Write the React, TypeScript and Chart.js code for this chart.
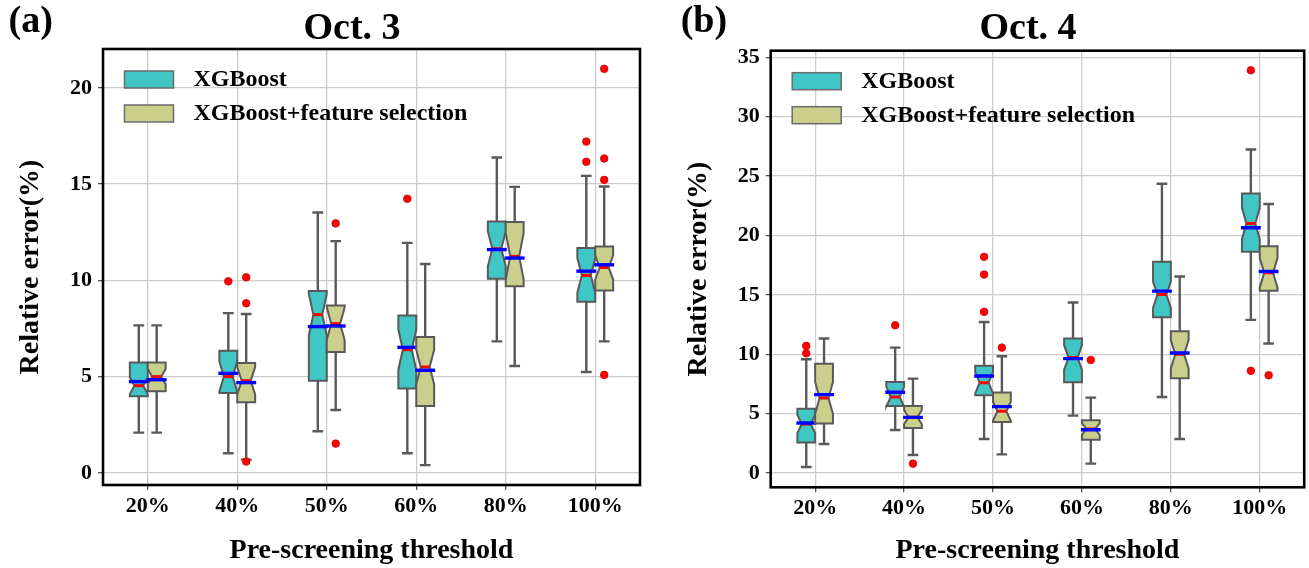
import React, { useEffect, useRef } from 'react';
import { Chart, registerables } from 'chart.js';

Chart.register(...registerables);

const thresholds = ['20%', '40%', '50%', '60%', '80%', '100%'];
const seriesNames = ['XGBoost', 'XGBoost+feature selection'];

// per threshold: [lower whisker, q1, notch low, median, notch high, q3, upper whisker, mean]
const oct3Xgb = [
  [2.09, 3.98, 4.09, 4.53, 4.97, 5.74, 7.66, 4.74],
  [1.02, 4.15, 4.22, 5.0, 5.8, 6.35, 8.3, 5.17],
  [2.16, 4.78, 7.15, 8.22, 9.3, 9.45, 13.53, 7.6],
  [1.02, 4.38, 5.36, 6.4, 7.44, 8.18, 11.95, 6.52],
  [6.83, 10.09, 10.73, 11.64, 12.54, 13.06, 16.38, 11.6],
  [5.24, 8.89, 9.36, 10.26, 11.16, 11.68, 15.43, 10.48],
];
const oct3Fs = [
  [2.09, 4.24, 4.6, 5.0, 5.4, 5.74, 7.66, 4.84],
  [0.69, 3.67, 4.08, 4.79, 5.5, 5.71, 8.25, 4.69],
  [3.27, 6.28, 6.9, 7.75, 8.6, 8.7, 12.04, 7.63],
  [0.4, 3.48, 4.6, 5.5, 6.4, 7.06, 10.85, 5.33],
  [5.55, 9.69, 10.05, 11.25, 12.46, 13.03, 14.86, 11.16],
  [6.83, 9.48, 10.05, 10.67, 11.3, 11.76, 14.88, 10.81],
];
const oct4Xgb = [
  [0.51, 2.58, 3.37, 4.13, 4.9, 5.42, 9.58, 4.21],
  [3.62, 5.65, 5.6, 6.4, 7.25, 7.67, 10.56, 6.8],
  [2.87, 6.54, 6.7, 7.61, 8.5, 9.04, 12.72, 8.17],
  [4.83, 7.64, 8.7, 9.72, 10.76, 11.32, 14.35, 9.63],
  [6.4, 13.12, 13.9, 15.03, 16.1, 17.78, 24.35, 15.31],
  [12.89, 18.62, 19.7, 21.01, 22.3, 23.54, 27.24, 20.65],
];
const oct4Fs = [
  [2.44, 4.16, 4.97, 6.32, 7.67, 9.21, 11.32, 6.6],
  [1.52, 3.79, 4.1, 4.69, 5.3, 5.65, 7.95, 4.69],
  [1.57, 4.3, 4.4, 5.2, 6.0, 6.77, 9.83, 5.59],
  [0.79, 2.81, 3.2, 3.71, 4.2, 4.44, 6.35, 3.65],
  [2.87, 7.98, 8.8, 10.0, 11.2, 11.94, 16.54, 10.11],
  [10.9, 15.34, 15.6, 16.85, 18.1, 19.1, 22.64, 16.97],
];

// outliers: [threshold index, value]
const oct3XgbOutliers = [[1, 9.95], [3, 14.24], [5, 17.21], [5, 16.16]];
const oct3FsOutliers = [[1, 10.16], [1, 8.81], [1, 0.59], [2, 12.96], [2, 1.52], [5, 20.99], [5, 16.33], [5, 15.22], [5, 5.09]];
const oct4XgbOutliers = [[0, 10.7], [0, 10.08], [1, 12.44], [2, 18.2], [2, 16.71], [2, 13.57], [5, 33.9], [5, 8.6]];
const oct4FsOutliers = [[1, 0.79], [2, 10.56], [3, 9.52], [5, 8.23]];

const oct3YTicks = [0, 5, 10, 15, 20];
const oct4YTicks = [0, 5, 10, 15, 20, 25, 30, 35];
const oct3YRange = [-0.63, 22.02];
const oct4YRange = [-1.2, 35.55];

const XGB_COLOR = '#41c6c6';
const FS_COLOR = '#cbcf8c';
const EDGE = '#595959';
const FONT = '"Liberation Serif", "Times New Roman", serif';
const OFFSETS = [-0.1, 0.1];
const BOX_HALF = 0.1;
const NOTCH_HALF = 0.05;
const CAP_HALF = 0.06;

type Area = { left: number; right: number; top: number; bottom: number };

const boxPlugin = (stats: number[][][], colors: string[]) => ({
  id: 'notchedBoxes',
  beforeDatasetsDraw(chart: any) {
    const { ctx, chartArea, scales } = chart;
    const xs = scales.x;
    const ys = scales.y;
    ctx.save();
    ctx.beginPath();
    ctx.rect(chartArea.left, chartArea.top, chartArea.right - chartArea.left, chartArea.bottom - chartArea.top);
    ctx.clip();
    stats.forEach((serie, si) => {
      serie.forEach((st, i) => {
        const [lo, q1, cilo, med, cihi, q3, hi, mean] = st.map((v) => ys.getPixelForValue(v));
        const pos = i + OFFSETS[si];
        const L = xs.getPixelForValue(pos - BOX_HALF);
        const R = xs.getPixelForValue(pos + BOX_HALF);
        const nL = xs.getPixelForValue(pos - NOTCH_HALF);
        const nR = xs.getPixelForValue(pos + NOTCH_HALF);
        const C = xs.getPixelForValue(pos);
        const cL = xs.getPixelForValue(pos - CAP_HALF);
        const cR = xs.getPixelForValue(pos + CAP_HALF);

        // whiskers and caps
        ctx.strokeStyle = EDGE;
        ctx.lineWidth = 2.4;
        ctx.beginPath();
        ctx.moveTo(C, q1);
        ctx.lineTo(C, lo);
        ctx.moveTo(C, q3);
        ctx.lineTo(C, hi);
        ctx.moveTo(cL, lo);
        ctx.lineTo(cR, lo);
        ctx.moveTo(cL, hi);
        ctx.lineTo(cR, hi);
        ctx.stroke();

        // notched box
        ctx.beginPath();
        ctx.moveTo(L, q1);
        ctx.lineTo(R, q1);
        ctx.lineTo(R, cilo);
        ctx.lineTo(nR, med);
        ctx.lineTo(R, cihi);
        ctx.lineTo(R, q3);
        ctx.lineTo(L, q3);
        ctx.lineTo(L, cihi);
        ctx.lineTo(nL, med);
        ctx.lineTo(L, cilo);
        ctx.closePath();
        ctx.fillStyle = colors[si];
        ctx.fill();
        ctx.lineWidth = 2;
        ctx.lineJoin = 'miter';
        ctx.stroke();

        // median
        ctx.strokeStyle = '#ff0000';
        ctx.lineWidth = 3;
        ctx.beginPath();
        ctx.moveTo(nL, med);
        ctx.lineTo(nR, med);
        ctx.stroke();

        // mean
        ctx.strokeStyle = '#0000ff';
        ctx.lineWidth = 3.4;
        ctx.beginPath();
        ctx.moveTo(L - 1, mean);
        ctx.lineTo(R + 1, mean);
        ctx.stroke();
      });
    });
    ctx.restore();
  },
  afterDraw(chart: any) {
    const { ctx, chartArea } = chart;
    ctx.save();
    // axes frame
    ctx.strokeStyle = '#000';
    ctx.lineWidth = 2.6;
    ctx.strokeRect(chartArea.left, chartArea.top, chartArea.right - chartArea.left, chartArea.bottom - chartArea.top);
    // legend
    ctx.font = `bold 24px ${FONT}`;
    ctx.textBaseline = 'middle';
    ctx.fillStyle = '#000';
    seriesNames.forEach((name, i) => {
      const x = chartArea.left + 21.5;
      const y = chartArea.top + 22 + i * 34;
      ctx.fillStyle = colors[i];
      ctx.fillRect(x, y, 49, 17);
      ctx.strokeStyle = '#6b6b6b';
      ctx.lineWidth = 1.5;
      ctx.strokeRect(x, y, 49, 17);
      ctx.fillStyle = '#000';
      ctx.fillText(name, x + 69, y + 9);
    });
    ctx.restore();
  },
});

interface PanelProps {
  left: number;
  width: number;
  area: Area;
  title: string;
  titleX: number;
  letter: string;
  letterX: number;
  yTitlePad: number;
  stats: number[][][];
  outliers: number[][][];
  yTicks: number[];
  yRange: number[];
}

const Panel: React.FC<PanelProps> = (p) => {
  const canvasRef = useRef<HTMLCanvasElement>(null);

  useEffect(() => {
    if (!canvasRef.current) return;
    const colors = [XGB_COLOR, FS_COLOR];
    const tickFont = { family: FONT, size: 22, weight: 'bold' as const };
    const titleFont = { family: FONT, size: 28, weight: 'bold' as const, lineHeight: 1.2 };
    const chart = new Chart(canvasRef.current, {
      type: 'scatter',
      data: {
        datasets: p.outliers.map((list, si) => ({
          label: seriesNames[si] + ' outliers',
          data: list.map(([i, v]) => ({ x: i + OFFSETS[si], y: v })),
          backgroundColor: '#ff0000',
          borderColor: '#d00000',
          borderWidth: 0.8,
          pointRadius: 3.8,
        })),
      },
      options: {
        animation: false,
        responsive: false,
        maintainAspectRatio: false,
        layout: {
          padding: { left: 0, top: p.area.top, right: p.width - p.area.right, bottom: 0 },
        },
        plugins: {
          legend: { display: false },
          tooltip: { enabled: false },
        },
        scales: {
          x: {
            type: 'linear',
            min: -0.5,
            max: 5.5,
            afterBuildTicks: (scale: any) => {
              scale.ticks = thresholds.map((_, i) => ({ value: i }));
            },
            afterFit: (scale: any) => {
              scale.height = 568 - p.area.bottom;
            },
            ticks: {
              callback: (v: any) => thresholds[Math.round(Number(v))],
              font: tickFont,
              color: '#000',
              padding: 3,
              autoSkip: false,
              maxRotation: 0,
            },
            grid: { color: '#cccccc', lineWidth: 1.3, tickLength: 5, tickColor: '#555', tickWidth: 1.3 },
            border: { display: false },
            title: { display: true, text: 'Pre-screening threshold', font: titleFont, color: '#000', padding: { top: 0, bottom: 0 } },
          },
          y: {
            type: 'linear',
            min: p.yRange[0],
            max: p.yRange[1],
            afterBuildTicks: (scale: any) => {
              scale.ticks = p.yTicks.map((v) => ({ value: v }));
            },
            afterFit: (scale: any) => {
              scale.width = p.area.left;
            },
            ticks: { font: tickFont, color: '#000', padding: 6 },
            grid: { color: '#cccccc', lineWidth: 1.3, tickLength: 5, tickColor: '#555', tickWidth: 1.3 },
            border: { display: false },
            title: { display: true, text: 'Relative error(%)', font: titleFont, color: '#000', padding: { top: p.yTitlePad, bottom: 0 } },
          },
        },
      },
      plugins: [boxPlugin(p.stats, colors)],
    });
    return () => chart.destroy();
  }, [p]);

  const big = { position: 'absolute' as const, top: 0, font: `bold 38px/38px ${FONT}`, whiteSpace: 'nowrap' as const, color: '#000' };
  return (
    <div style={{ position: 'absolute', left: p.left, top: 0, width: p.width, height: 568 }}>
      <canvas ref={canvasRef} width={p.width} height={568} style={{ display: 'block', width: p.width, height: 568 }} />
      <div style={{ ...big, left: p.titleX, top: 7, transform: 'translateX(-50%)' }}>{p.title}</div>
      <div style={{ ...big, left: p.letterX, top: 0 }}>{p.letter}</div>
    </div>
  );
};

const panelA: PanelProps = {
  left: 0,
  width: 650,
  area: { left: 103, right: 640, top: 49, bottom: 485 },
  title: 'Oct. 3',
  titleX: 352,
  letter: '(a)',
  letterX: 8.5,
  yTitlePad: 13.7,
  stats: [oct3Xgb, oct3Fs],
  outliers: [oct3XgbOutliers, oct3FsOutliers],
  yTicks: oct3YTicks,
  yRange: oct3YRange,
};

const panelB: PanelProps = {
  left: 650,
  width: 659,
  area: { left: 120.7, right: 658, top: 50.7, bottom: 487.3 },
  title: 'Oct. 4',
  titleX: 378,
  letter: '(b)',
  letterX: 30.7,
  yTitlePad: 32.2,
  stats: [oct4Xgb, oct4Fs],
  outliers: [oct4XgbOutliers, oct4FsOutliers],
  yTicks: oct4YTicks,
  yRange: oct4YRange,
};

export default function App() {
  return (
    <div style={{ position: 'absolute', left: 0, top: 0, width: 1309, height: 568, background: '#fff', overflow: 'hidden' }}>
      <Panel {...panelA} />
      <Panel {...panelB} />
    </div>
  );
}
